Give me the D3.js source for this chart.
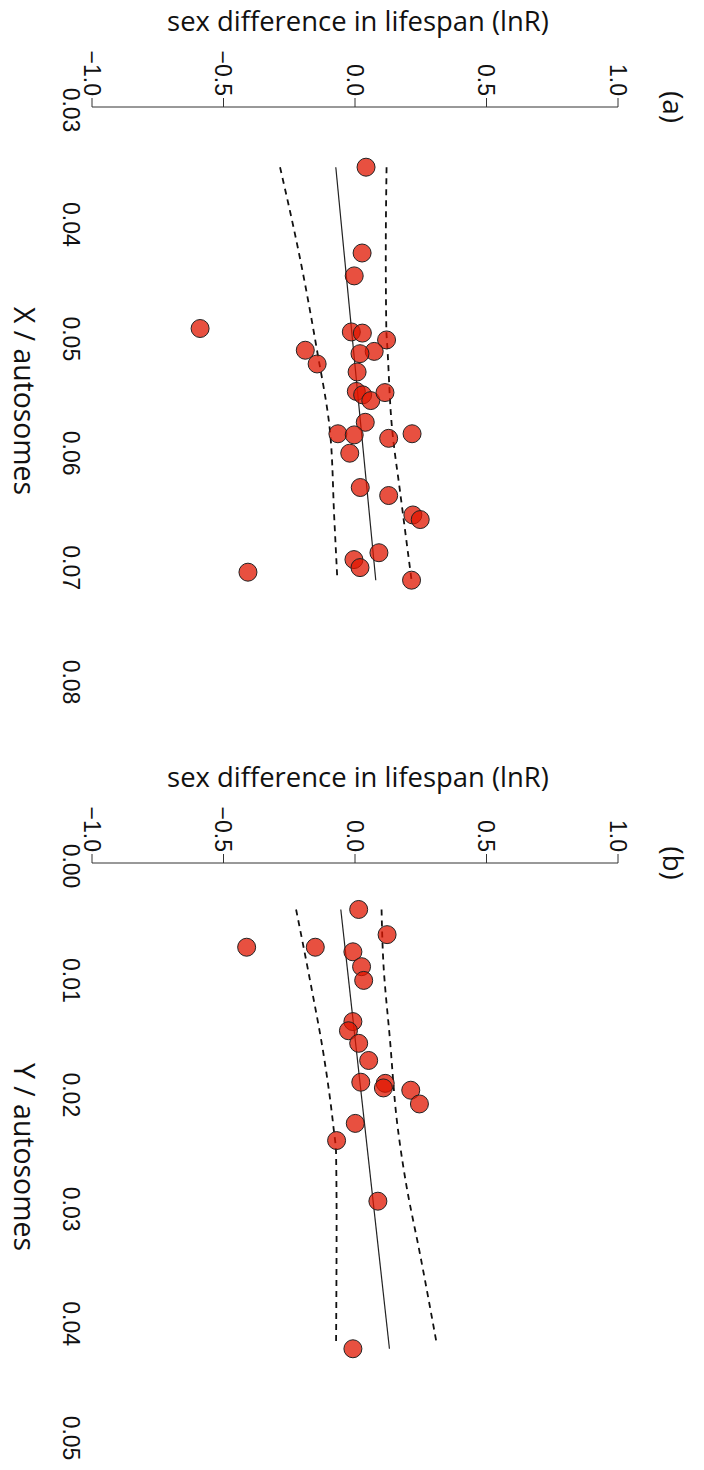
<!DOCTYPE html>
<html>
<head>
<meta charset="utf-8">
<script src="https://cdn.jsdelivr.net/npm/d3@7"></script>
<style>
  body { margin: 0; background: #fff; }
  svg { display: block; }
</style>
</head>
<body>
<div id="chart"></div>
<script>

var width = 704;
var height = 1470;

// tick labels
var lnrTicks = [-1.0, -0.5, 0.0, 0.5, 1.0];
var xTicksA = [0.03, 0.04, 0.05, 0.06, 0.07, 0.08];
var xTicksB = [0.00, 0.01, 0.02, 0.03, 0.04, 0.05];

// panel (a): X / autosomes vs lnR
var xRatioA = [0.0350, 0.0425, 0.0445, 0.0491, 0.0494, 0.0495, 0.0501, 0.0510, 0.0511, 0.0513,
               0.0522, 0.0529, 0.0546, 0.0549, 0.0554, 0.0547, 0.0573, 0.0583, 0.0584, 0.0587,
               0.0583, 0.0600, 0.0630, 0.0637, 0.0654, 0.0658, 0.0687, 0.0693, 0.0700, 0.0704, 0.0711];
var lnrA = [0.042, 0.027, -0.003, -0.589, -0.014, 0.028, 0.120, -0.189, 0.073, 0.019,
            -0.144, 0.008, 0.005, 0.029, 0.060, 0.114, 0.039, -0.065, -0.003, 0.128,
            0.217, -0.020, 0.020, 0.128, 0.220, 0.248, 0.091, -0.004, 0.019, -0.407, 0.215];
var fitA = [[0.0350, -0.073], [0.0711, 0.079]];
var upperA = [[0.0350, 0.120], [0.0425, 0.117], [0.0490, 0.119], [0.0511, 0.124], [0.0581, 0.142], [0.0633, 0.171], [0.0711, 0.215]];
var lowerA = [[0.0350, -0.285], [0.0423, -0.215], [0.0508, -0.146], [0.0581, -0.095], [0.0656, -0.079], [0.0711, -0.067]];

// panel (b): Y / autosomes vs lnR
var yRatioB = [0.0038, 0.0060, 0.0071, 0.0071, 0.0075, 0.0088, 0.0100, 0.0136, 0.0144, 0.0155,
               0.0170, 0.0189, 0.0190, 0.0194, 0.0196, 0.0208, 0.0225, 0.0240, 0.0293, 0.0422];
var lnrB = [0.014, 0.122, -0.412, -0.151, -0.008, 0.025, 0.033, -0.008, -0.025, 0.014,
            0.052, 0.022, 0.115, 0.108, 0.212, 0.245, 0.001, -0.070, 0.087, -0.008];
var fitB = [[0.0038, -0.054], [0.0422, 0.131]];
var upperB = [[0.0038, 0.101], [0.0085, 0.108], [0.0152, 0.133], [0.0226, 0.161], [0.0280, 0.196], [0.0339, 0.247], [0.0418, 0.311]];
var lowerB = [[0.0038, -0.224], [0.0100, -0.171], [0.0164, -0.120], [0.0228, -0.082], [0.0251, -0.072], [0.0310, -0.070], [0.0418, -0.072]];

var svg = d3.select("#chart")
    .append("svg")
    .attr("width", width)
    .attr("height", height);

svg.append("rect").attr("width", width).attr("height", height).attr("fill", "#fff");

var titleFont = "'Open Sans', 'Noto Sans', sans-serif";
var tickFont = "'Liberation Sans', Arial, sans-serif";

// shrink/grow font so text covers the same length as in the picture
function fitText(sel, target) {
    var len = sel.node().getComputedTextLength();
    var fs = parseFloat(sel.attr("font-size"));
    if (len > 0) sel.attr("font-size", fs * target / len);
}

function fmtX(d) { return d.toFixed(2); }
function fmtL(d) { return d.toFixed(1).replace("-", "\u2212"); }

function drawPanel(offset, xDomain, xTicks, xs, ys, fit, upper, lower, xLabel, tag) {
    var g = svg.append("g").attr("transform", "translate(0," + offset + ")");

    // lnR runs left->right, ratio runs top->bottom (figure is turned 90 deg)
    var lScale = d3.scaleLinear().domain([-1, 1]).range([92, 618]);
    var rScale = d3.scaleLinear().domain(xDomain).range([110, 682]);

    // lnR axis
    var axisY = 107;
    g.append("path")
        .attr("d", "M" + lScale(-1) + "," + axisY + "H" + lScale(1))
        .attr("stroke", "#333").attr("fill", "none").attr("stroke-width", 1);
    g.selectAll(".ltick").data(lnrTicks).enter()
        .append("line")
        .attr("x1", function(d) { return lScale(d); })
        .attr("x2", function(d) { return lScale(d); })
        .attr("y1", axisY).attr("y2", axisY - 9)
        .attr("stroke", "#333").attr("stroke-width", 1);
    g.selectAll(".llab").data(lnrTicks).enter()
        .append("text")
        .attr("transform", function(d) { return "translate(" + lScale(d) + ",96) rotate(90)"; })
        .attr("text-anchor", "end")
        .attr("dy", "0.36em")
        .attr("font-family", tickFont)
        .attr("font-size", 23)
        .attr("fill", "#111")
        .text(fmtL);

    // ratio tick labels (no axis line in the original)
    g.selectAll(".xlab").data(xTicks).enter()
        .append("text")
        .attr("transform", function(d) { return "translate(71," + rScale(d) + ") rotate(90)"; })
        .attr("text-anchor", "middle")
        .attr("dy", "0.36em")
        .attr("font-family", tickFont)
        .attr("font-size", 23)
        .attr("fill", "#111")
        .text(fmtX);

    // titles
    var t = g.append("text")
        .attr("x", 358).attr("y", 31)
        .attr("text-anchor", "middle")
        .attr("font-family", titleFont)
        .attr("font-size", 26)
        .attr("fill", "#111")
        .text("sex difference in lifespan (lnR)");
    fitText(t, 382);

    var xl = g.append("text")
        .attr("transform", "translate(14,401) rotate(90)")
        .attr("text-anchor", "middle")
        .attr("font-family", titleFont)
        .attr("font-size", 28)
        .attr("fill", "#111")
        .text(xLabel);
    fitText(xl, 188);

    g.append("text")
        .attr("transform", "translate(672,107) rotate(90)")
        .attr("text-anchor", "middle")
        .attr("dy", "0.32em")
        .attr("font-family", titleFont)
        .attr("font-size", 28)
        .attr("fill", "#111")
        .text(tag);

    // regression line and bands
    var line = d3.line()
        .x(function(d) { return lScale(d[1]); })
        .y(function(d) { return rScale(d[0]); })
        .curve(d3.curveMonotoneY);

    g.append("path").datum(fit)
        .attr("d", line)
        .attr("fill", "none").attr("stroke", "#222").attr("stroke-width", 1.2);
    [upper, lower].forEach(function(band) {
        g.append("path").datum(band)
            .attr("d", line)
            .attr("fill", "none").attr("stroke", "#111")
            .attr("stroke-width", 1.8)
            .attr("stroke-dasharray", "6,5");
    });

    // points
    g.selectAll("circle")
        .data(xs.map(function(d, i) { return [d, ys[i]]; }))
        .enter()
        .append("circle")
        .attr("cx", function(d) { return lScale(d[1]); })
        .attr("cy", function(d) { return rScale(d[0]); })
        .attr("r", 9)
        .attr("fill", "rgb(224,22,0)")
        .attr("fill-opacity", 0.75)
        .attr("stroke", "#222")
        .attr("stroke-width", 1);
}

drawPanel(0, [0.03, 0.08], xTicksA, xRatioA, lnrA, fitA, upperA, lowerA, "X / autosomes", "(a)");
drawPanel(756, [0.00, 0.05], xTicksB, yRatioB, lnrB, fitB, upperB, lowerB, "Y / autosomes", "(b)");

</script>
</body>
</html>
